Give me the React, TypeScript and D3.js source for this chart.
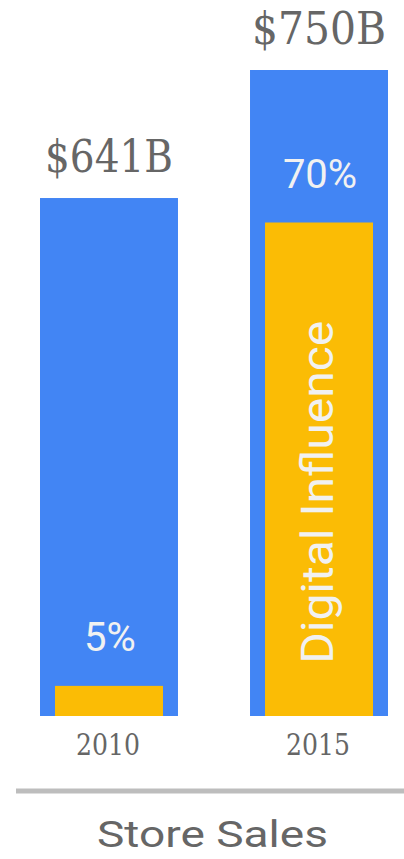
import React from "react";
import * as d3 from "d3";

const categories: string[] = ["2010", "2015"];
const salesBillions: number[] = [641, 750];
const digitalSharePct: number[] = [5, 70];
const salesLabels: string[] = ["$641B", "$750B"];
const shareLabels: string[] = ["5%", "70%"];
const insideLabel = "Digital Influence";
const title = "Store Sales";

const W = 404;
const H = 859;
const BLUE = "#4285f4";
const ORANGE = "#fbbc05";
const GRAY = "#666666";
const WHITE = "#f1f1f1";
const SERIF = "'DejaVu Serif', serif";
const SANS = "Roboto, 'Noto Sans', sans-serif";

export default function App() {
  const baseY = 716;
  const x = d3.scaleBand<string>().domain(categories).range([40, 388]).paddingInner(0.343).paddingOuter(0);
  const y = d3.scaleLinear().domain([200, 750]).range([baseY, 70]);
  const digital = salesBillions.map((s, i) => (s * digitalSharePct[i]) / 100);
  const yd = d3.scaleLinear().domain([0, 750]).range([baseY, baseY - 705]);
  const inset = 15;

  return (
    <svg width={W} height={H} style={{ position: "absolute", left: 0, top: 0, display: "block", background: "#fff" }}>
      {categories.map((c, i) => {
        const bx = x(c)!;
        const bw = x.bandwidth();
        const cx = bx + bw / 2;
        const top = y(salesBillions[i]);
        const dTop = yd(digital[i]);
        return (
          <g key={c}>
            <rect x={bx} y={top} width={bw} height={baseY - top} fill={BLUE} />
            <rect x={bx + inset} y={dTop} width={bw - 2 * inset} height={baseY - dTop} fill={ORANGE} />
            <text x={cx} y={top - 26} textAnchor="middle" fontFamily={SERIF} fontSize={45} fill={GRAY}
              textLength={i === 0 ? 128 : 134} lengthAdjust="spacingAndGlyphs">{salesLabels[i]}</text>
            <text x={cx + 1} y={dTop - 35} textAnchor="middle" fontFamily={SANS} fontSize={40} fill={WHITE}>{shareLabels[i]}</text>
            <text x={cx - 1} y={755} textAnchor="middle" fontFamily={SERIF} fontSize={30} fill={GRAY}
              textLength={64} lengthAdjust="spacingAndGlyphs">{c}</text>
            {i === categories.length - 1 && (
              <text transform={`translate(${cx + 14},${(dTop + baseY) / 2 + 23}) rotate(-90)`} textAnchor="middle"
                fontFamily={SANS} fontSize={44} fill={WHITE} textLength={343} lengthAdjust="spacingAndGlyphs">{insideLabel}</text>
            )}
          </g>
        );
      })}
      <line x1={16} x2={404} y1={791} y2={791} stroke="#bdbdbd" strokeWidth={5} />
      <text x={212.5} y={847} textAnchor="middle" fontFamily={SANS} fontSize={37} fill={GRAY}
        textLength={231} lengthAdjust="spacingAndGlyphs">{title}</text>
    </svg>
  );
}
